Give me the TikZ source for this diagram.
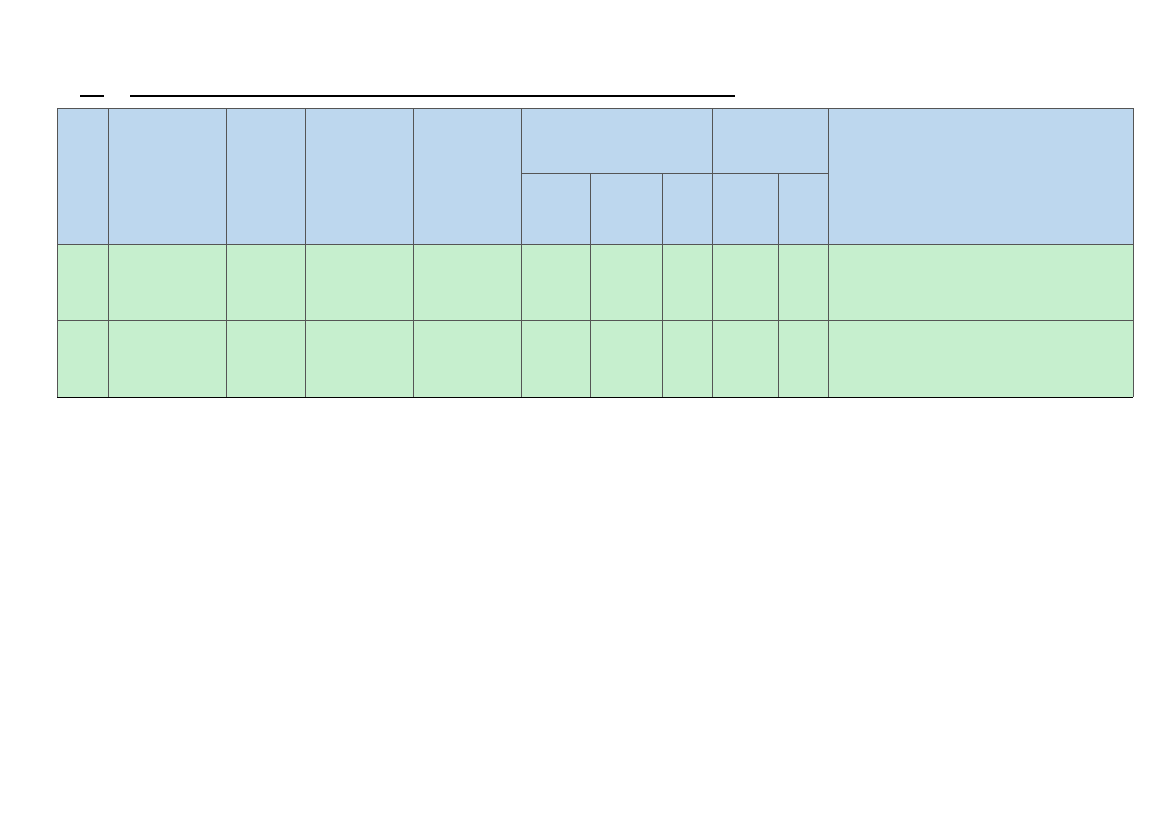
\documentclass[tikz,border=0pt]{standalone}
\definecolor{hdr}{HTML}{BDD7EE}
\definecolor{body}{HTML}{C6EFCE}
\definecolor{grid}{HTML}{555555}
\tikzset{cell/.style={draw=grid,line width=0.9pt}}
\begin{document}
\begin{tikzpicture}[x=1pt,y=-1pt]
\useasboundingbox (0,0) rectangle (1169,827);
\fill[white] (0,0) rectangle (1169,827);
\fill[hdr] (57,108) rectangle (1133,244);
\fill[body] (57,244) rectangle (1133,397);
\foreach \x in {57,108,226,305,413,521,712,828,1133} \draw[cell] (\x,108) -- (\x,397);
\foreach \x in {590,662,778} \draw[cell] (\x,173) -- (\x,397);
\draw[cell] (521,173) -- (828,173);
\foreach \y in {108,244,320} \draw[cell] (57,\y) -- (1133,\y);
\draw[black,line width=1pt] (57,397) -- (1133,397);
\draw[black,line width=1.2pt] (80,96) -- (104,96);
\draw[black,line width=1.2pt] (130,96) -- (735,96);
\end{tikzpicture}
\end{document}
